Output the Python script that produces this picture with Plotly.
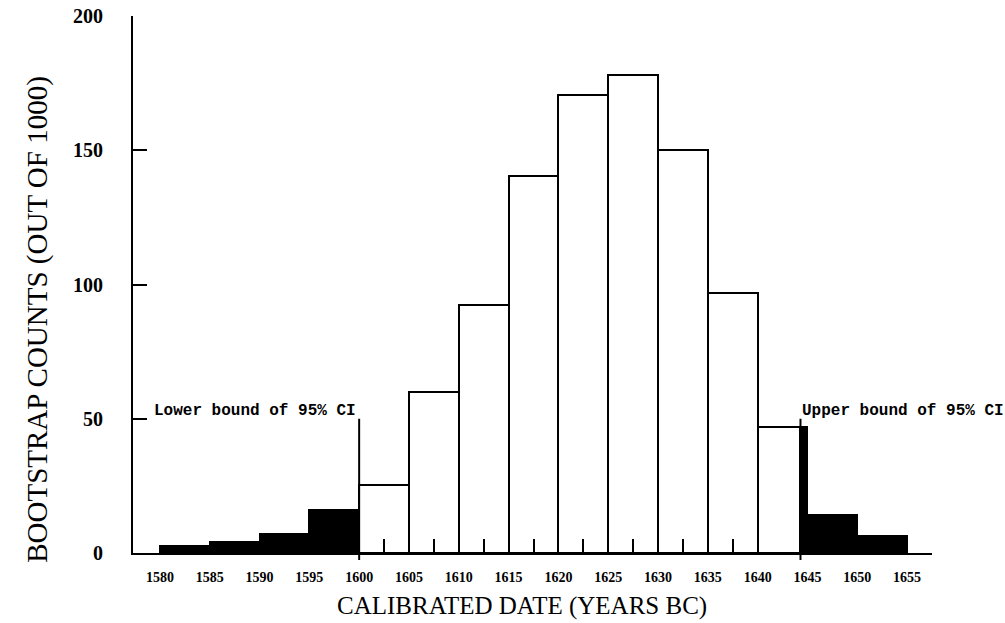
import plotly.graph_objects as go

# ---- data ----
bin_starts = [1580, 1585, 1590, 1595, 1600, 1605, 1610, 1615, 1620, 1625,
              1630, 1635, 1640, 1645, 1650]
counts = [2.5, 4, 7, 16, 25.5, 60, 92.5, 140.5, 170.5, 178,
          150, 97, 47, 14, 6.5]
bin_width = 5
tick_years = [1580, 1585, 1590, 1595, 1600, 1605, 1610, 1615, 1620, 1625,
              1630, 1635, 1640, 1645, 1650, 1655]
minor_ticks = [1602.5, 1607.5, 1612.5, 1617.5, 1622.5, 1627.5, 1632.5, 1637.5]
y_ticks = [0, 50, 100, 150, 200]
ci_lower = 1600
ci_upper = 1644.3
ci_line_top = 50
x_range = [1577.3, 1657.5]
y_range = [0, 200]

# ---- styles ----
serif = "Liberation Serif"
colors = ["black" if (s < ci_lower or s >= 1645) else "white" for s in bin_starts]

fig = go.Figure()
fig.add_trace(go.Bar(
    x=[s + bin_width / 2 for s in bin_starts],
    y=counts,
    width=[bin_width] * len(bin_starts),
    marker=dict(color=colors, line=dict(color="black", width=2)),
    showlegend=False,
    hoverinfo="skip",
))

# black sliver of the 1640 bin beyond the upper CI bound
last_white = bin_starts.index(1640)
sliver_end = bin_starts[last_white] + bin_width
fig.add_trace(go.Bar(
    x=[(ci_upper + sliver_end) / 2],
    y=[counts[last_white]],
    width=[sliver_end - ci_upper],
    marker=dict(color="black", line=dict(color="black", width=1)),
    showlegend=False,
    hoverinfo="skip",
))

# CI bound lines
for xv in (ci_lower, ci_upper):
    fig.add_shape(type="line", xref="x", yref="paper",
                  x0=xv, x1=xv, y0=-0.013, y1=ci_line_top / y_range[1],
                  line=dict(color="black", width=2))

fig.add_annotation(x=ci_lower, y=53, xref="x", yref="y", xanchor="right",
                   yanchor="middle", xshift=-1, showarrow=False,
                   text="Lower bound of 95% CI",
                   font=dict(family="Liberation Mono", size=16, color="black", weight="bold"))
fig.add_annotation(x=ci_upper, y=53, xref="x", yref="y", xanchor="left",
                   yanchor="middle", xshift=0, showarrow=False,
                   text="Upper bound of 95% CI",
                   font=dict(family="Liberation Mono", size=16, color="black", weight="bold"))

# axis titles
fig.add_annotation(x=0.487, y=-0.099, xref="paper", yref="paper",
                   xanchor="center", yanchor="middle", showarrow=False,
                   text="CALIBRATED DATE (YEARS BC)",
                   font=dict(family=serif, size=25, color="black"))
fig.add_annotation(x=-0.119, y=0.436, xref="paper", yref="paper",
                   xanchor="center", yanchor="middle", showarrow=False,
                   textangle=-90,
                   text="BOOTSTRAP COUNTS (OUT OF 1000)",
                   font=dict(family=serif, size=29, color="black"))

fig.update_layout(
    width=1005, height=623,
    margin=dict(l=133, r=73, t=16, b=70, autoexpand=False),
    paper_bgcolor="white", plot_bgcolor="white",
    bargap=0,
    xaxis=dict(
        range=x_range, showgrid=False, zeroline=False, automargin=False,
        showline=True, linecolor="black", linewidth=2,
        tickmode="array", tickvals=tick_years,
        ticktext=[str(t) for t in tick_years],
        ticks="", ticklabelstandoff=10,
        tickfont=dict(family=serif, size=14, color="black", weight="bold"),
        minor=dict(tickmode="array", tickvals=minor_ticks, ticks="inside",
                   ticklen=14, tickwidth=2, tickcolor="black", showgrid=False),
    ),
    yaxis=dict(
        range=y_range, showgrid=False, zeroline=False, automargin=False,
        showline=True, linecolor="black", linewidth=2,
        tickmode="array", tickvals=y_ticks,
        ticks="inside", ticklen=14, tickwidth=2, tickcolor="black",
        ticklabelstandoff=24,
        tickfont=dict(family=serif, size=20, color="black", weight="bold"),
    ),
)

fig.write_html(
    "out.html",
    config={"displayModeBar": False},
    post_script="document.body.style.margin='0';document.body.style.overflow='hidden';",
)
